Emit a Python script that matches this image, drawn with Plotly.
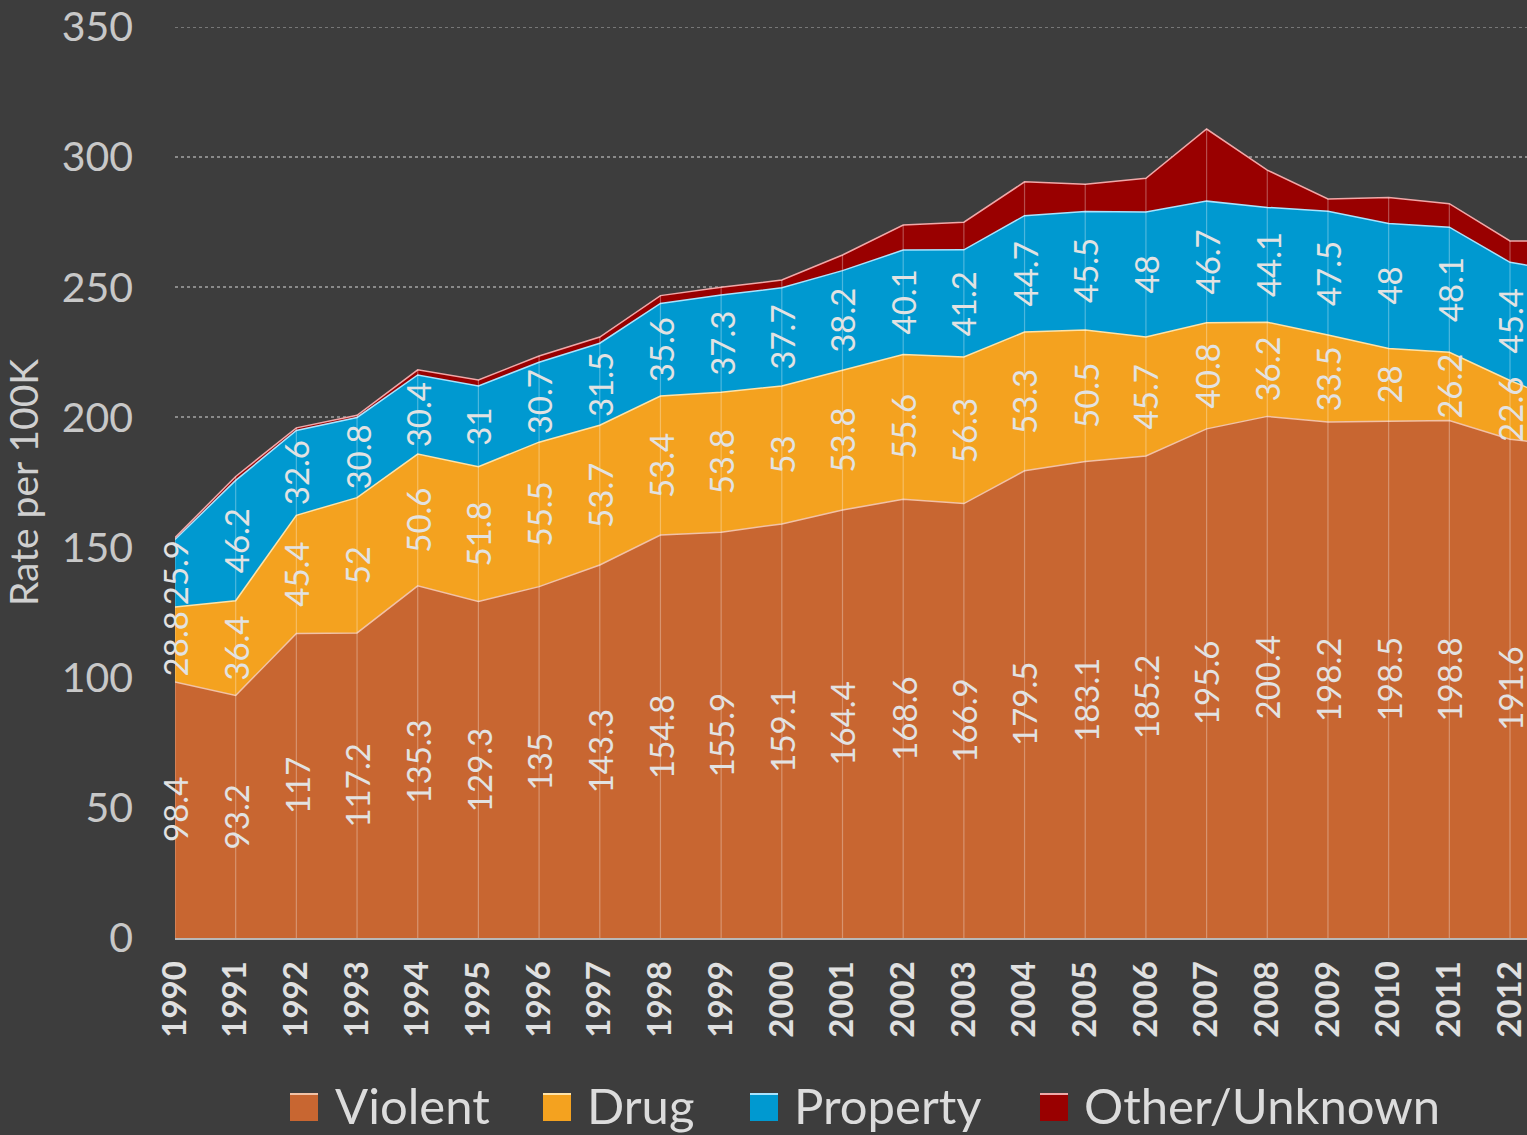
import plotly.graph_objects as go

years = list(range(1990, 2014))
violent = [98.4, 93.2, 117, 117.2, 135.3, 129.3, 135, 143.3, 154.8, 155.9, 159.1, 164.4,
           168.6, 166.9, 179.5, 183.1, 185.2, 195.6, 200.4, 198.2, 198.5, 198.8, 191.6, 189.0]
drug = [28.8, 36.4, 45.4, 52, 50.6, 51.8, 55.5, 53.7, 53.4, 53.8, 53, 53.8,
        55.6, 56.3, 53.3, 50.5, 45.7, 40.8, 36.2, 33.5, 28, 26.2, 22.6, 15.6]
prop = [25.9, 46.2, 32.6, 30.8, 30.4, 31, 30.7, 31.5, 35.6, 37.3, 37.7, 38.2,
        40.1, 41.2, 44.7, 45.5, 48, 46.7, 44.1, 47.5, 48, 48.1, 45.4, 51.0]
other = [0.7, 1.5, 1.0, 0.8, 2.0, 2.3, 2.4, 2.4, 3.0, 3.0, 3.0, 6.0,
         9.6, 10.6, 13.0, 10.5, 13.0, 27.7, 14.3, 4.7, 10.0, 9.0, 8.2, 12.0]
shown_years = years[:-1]  # 1990-2012 visible in the crop
y_ticks = [0, 50, 100, 150, 200, 250, 300, 350]

series = [
    ("Violent", violent, "#c86631", "#f2c2a6"),
    ("Drug", drug, "#f4a21f", "#ffe3a8"),
    ("Property", prop, "#0099d0", "#a8e4ff"),
    ("Other/Unknown", other, "#990000", "#f0a8a8"),
]

BG = "#3d3d3d"
FONT = "Lato, 'Open Sans', sans-serif"
W, H = 1527, 1135
ML, MR, MT, MB = 175, 0, 27, 197

fig = go.Figure()
for name, vals, fill, line in series:
    fig.add_trace(go.Scatter(
        x=years, y=vals, name=name, mode="lines", stackgroup="one",
        fillcolor=fill, line=dict(color=line, width=1.5),
        hoverinfo="skip", showlegend=False,
    ))

# vertical drop lines at each year
totals = [v + d + p + o for v, d, p, o in zip(violent, drug, prop, other)]
vx, vy = [], []
for yr, t in zip(years, totals):
    vx += [yr, yr, None]
    vy += [0, t, None]
fig.add_trace(go.Scatter(x=vx, y=vy, mode="lines", showlegend=False,
                         line=dict(color="rgba(255,255,255,0.3)", width=1.2),
                         hoverinfo="skip"))

# rotated data labels centred in each band
annotations = []
base = [0.0] * len(years)
for name, vals, fill, line in series[:3]:
    for i, (yr, v) in enumerate(zip(years, vals)):
        if yr in shown_years:
            annotations.append(dict(
                x=yr, y=base[i] + v / 2, text=f"{v:g}", showarrow=False,
                textangle=-90, font=dict(size=33, color="#e2e2e2", family=FONT),
                xref="x", yref="y",
            ))
        base[i] += v

# manual legend below the plot (pixel layout -> paper coords)
plot_w = W - ML - MR
plot_h = H - MT - MB
def px(x):
    return (x - ML) / plot_w
def py(y):
    return (H - MB - y) / plot_h

shapes = []
legend_slots = [(290, 333), (543, 585), (750, 792), (1040, 1082)]
sq, ly = 28, 1107
for (name, vals, fill, line), (sx, tx) in zip(series, legend_slots):
    shapes.append(dict(type="rect", xref="paper", yref="paper",
                       x0=px(sx), x1=px(sx + sq), y0=py(ly + sq / 2), y1=py(ly - sq / 2),
                       fillcolor=fill, line=dict(width=0)))
    shapes.append(dict(type="line", xref="paper", yref="paper",
                       x0=px(sx), x1=px(sx + sq), y0=py(ly - sq / 2 + 1), y1=py(ly - sq / 2 + 1),
                       line=dict(color=line, width=2)))
    annotations.append(dict(xref="paper", yref="paper", x=px(tx), y=py(ly - 2),
                            xanchor="left", yanchor="middle", showarrow=False, text=name,
                            font=dict(size=49, color="#dcdcdc", family=FONT)))

# top gridline at 350 (edge of range)
shapes.append(dict(type="line", xref="paper", yref="y", x0=0, x1=1, y0=350, y1=350,
                   line=dict(color="#8a8a8a", width=1.5, dash="dot")))

fig.update_layout(
    width=W, height=H,
    paper_bgcolor=BG, plot_bgcolor=BG,
    margin=dict(l=ML, r=MR, t=MT, b=MB),
    font=dict(family=FONT, color="#c8c8c8"),
    annotations=annotations,
    shapes=shapes,
    showlegend=False,
    xaxis=dict(
        range=[1990, 2012.28], tickmode="array", tickvals=shown_years,
        ticktext=[f"<b>{y}</b>" for y in shown_years], tickangle=-90,
        tickfont=dict(size=33, color="#e0e0e0", family=FONT),
        showgrid=False, zeroline=False, showline=True, linecolor="#b8b8b8", linewidth=2,
        ticks="", ticklabelstandoff=8, ticklabeloverflow="allow",
    ),
    yaxis=dict(
        range=[0, 350], tickvals=y_ticks,
        tickfont=dict(size=41, color="#c8c8c8", family=FONT),
        showgrid=True, gridcolor="#8a8a8a", griddash="dot", gridwidth=1.5,
        zeroline=False, showline=False, ticks="", ticklabelstandoff=41,
        ticklabeloverflow="allow",
        title=dict(text="Rate per 100K", font=dict(size=39, color="#d0d0d0", family=FONT),
                   standoff=18),
    ),
)

fig.write_html(
    "out.html",
    config={"displayModeBar": False},
    post_script="document.body.style.margin='0';document.body.style.overflow='hidden';",
)
